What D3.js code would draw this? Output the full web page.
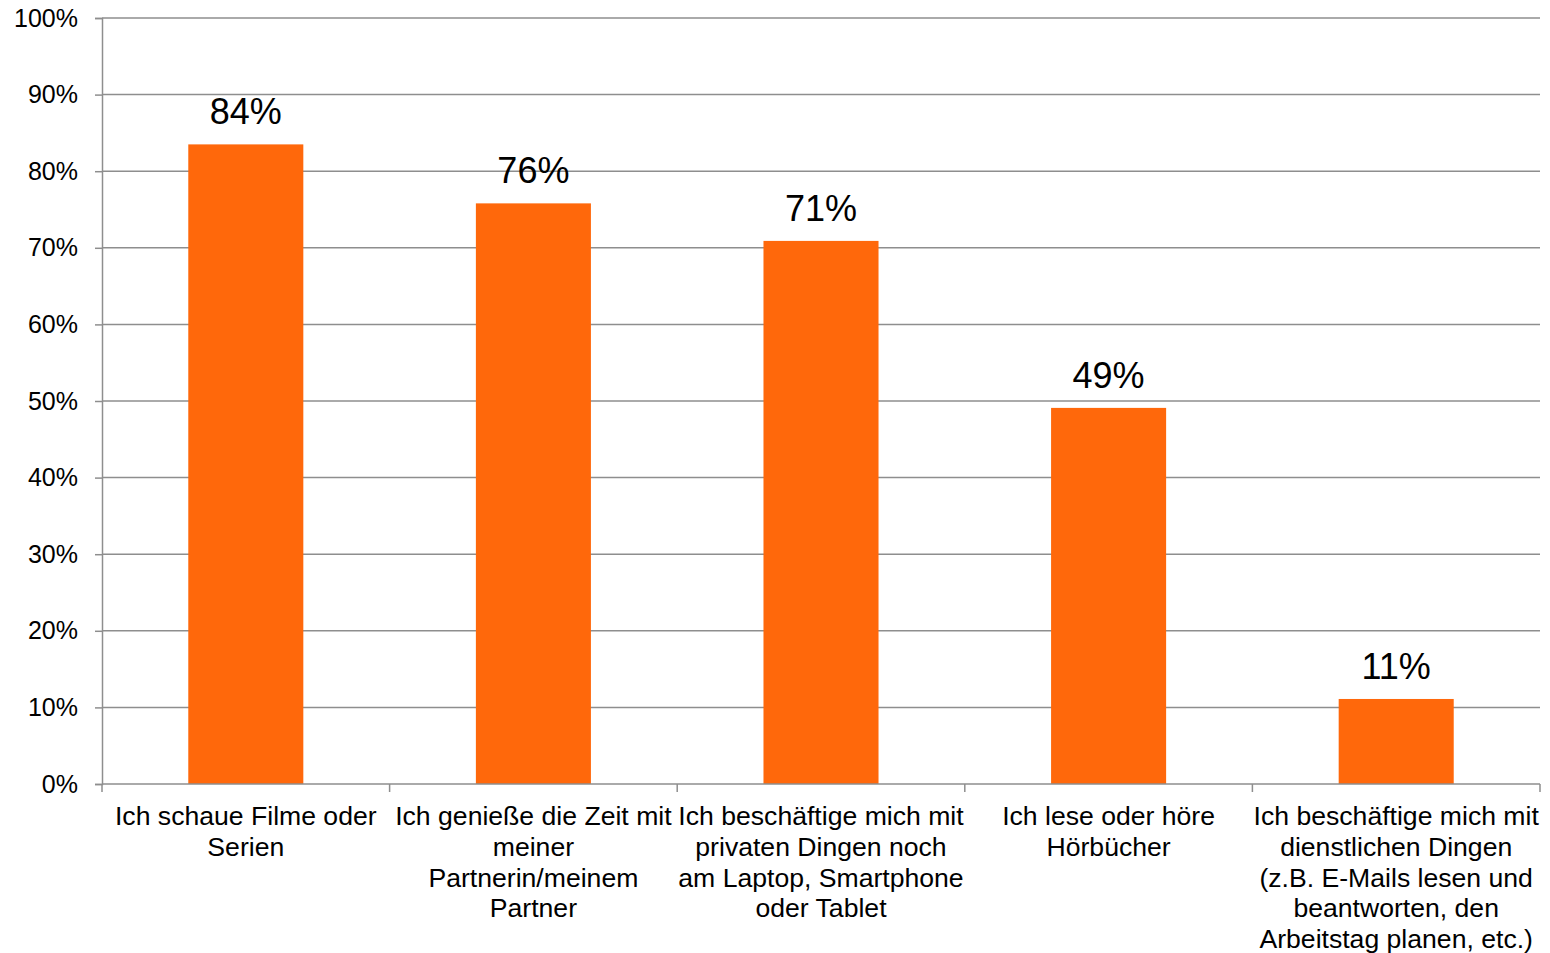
<!DOCTYPE html>
<html>
<head>
<meta charset="utf-8">
<script src="https://cdn.jsdelivr.net/npm/d3@7"></script>
<style>
  body { margin: 0; background: #fff; }
  svg { display: block; font-family: "Liberation Sans", Arial, sans-serif; }
</style>
</head>
<body>
<div id="chart"></div>
<script>
// categories (already broken into lines as in the original)
const categories = [
  ["Ich schaue Filme oder", "Serien"],
  ["Ich genieße die Zeit mit", "meiner", "Partnerin/meinem", "Partner"],
  ["Ich beschäftige mich mit", "privaten Dingen noch", "am Laptop, Smartphone", "oder Tablet"],
  ["Ich lese oder höre", "Hörbücher"],
  ["Ich beschäftige mich mit", "dienstlichen Dingen", "(z.B. E-Mails lesen und", "beantworten, den", "Arbeitstag planen, etc.)"]
];
const values = [83.5, 75.8, 70.9, 49.1, 11.1];
const valueLabels = ["84%", "76%", "71%", "49%", "11%"];
const yTicks = [0, 10, 20, 30, 40, 50, 60, 70, 80, 90, 100];

const width = 1550, height = 953;
const plotLeft = 102, plotRight = 1540, plotTop = 18, plotBottom = 784;

const svg = d3.select("#chart").append("svg")
  .attr("width", width)
  .attr("height", height);

const x = d3.scaleBand()
  .domain(d3.range(categories.length))
  .range([plotLeft, plotRight])
  .paddingInner(0.6)
  .paddingOuter(0.3);

const xEdge = d3.scaleLinear()
  .domain([0, categories.length])
  .range([plotLeft, plotRight]);

const y = d3.scaleLinear()
  .domain([0, 100])
  .range([plotBottom, plotTop]);

const grey = "#8e8e8e";

// gridlines
svg.append("g")
  .selectAll("line")
  .data(yTicks.filter(d => d > 0))
  .enter()
  .append("line")
  .attr("x1", plotLeft)
  .attr("x2", plotRight)
  .attr("y1", d => y(d))
  .attr("y2", d => y(d))
  .attr("stroke", grey)
  .attr("stroke-width", 1.5);

// y axis
const yAxis = svg.append("g")
  .attr("transform", `translate(${plotLeft},0)`)
  .call(d3.axisLeft(y).tickValues(yTicks).tickFormat(d => d + "%").tickSize(7).tickPadding(17));
yAxis.select(".domain").attr("stroke", grey).attr("stroke-width", 1.5);
yAxis.selectAll(".tick line").attr("stroke", grey).attr("stroke-width", 1.5);
yAxis.selectAll(".tick text")
  .attr("font-family", "Liberation Sans, Arial, sans-serif")
  .attr("font-size", 25)
  .attr("fill", "#000");

// bars
svg.append("g")
  .selectAll("rect")
  .data(values)
  .enter()
  .append("rect")
  .attr("x", (d, i) => x(i))
  .attr("width", x.bandwidth())
  .attr("y", d => y(d))
  .attr("height", d => y(0) - y(d))
  .attr("fill", "#ff680b");

// value labels
svg.append("g")
  .selectAll("text")
  .data(values)
  .enter()
  .append("text")
  .attr("x", (d, i) => x(i) + x.bandwidth() / 2)
  .attr("y", d => y(d) - 20)
  .attr("text-anchor", "middle")
  .attr("font-size", 36)
  .attr("fill", "#000")
  .text((d, i) => valueLabels[i]);

// x axis line and ticks
svg.append("line")
  .attr("x1", plotLeft).attr("x2", plotRight)
  .attr("y1", plotBottom).attr("y2", plotBottom)
  .attr("stroke", grey).attr("stroke-width", 1.5);

svg.append("g")
  .selectAll("line")
  .data(d3.range(categories.length + 1))
  .enter()
  .append("line")
  .attr("x1", d => xEdge(d)).attr("x2", d => xEdge(d))
  .attr("y1", plotBottom).attr("y2", plotBottom + 8)
  .attr("stroke", grey).attr("stroke-width", 1.5);

// category labels
const catText = svg.append("g")
  .selectAll("text")
  .data(categories)
  .enter()
  .append("text")
  .attr("text-anchor", "middle")
  .attr("font-size", 26.6)
  .attr("fill", "#000");

catText.selectAll("tspan")
  .data((d, i) => d.map(line => ({ line, i })))
  .enter()
  .append("tspan")
  .attr("x", d => x(d.i) + x.bandwidth() / 2)
  .attr("y", (d, j) => 825 + j * 30.8)
  .text(d => d.line);
</script>
</body>
</html>
